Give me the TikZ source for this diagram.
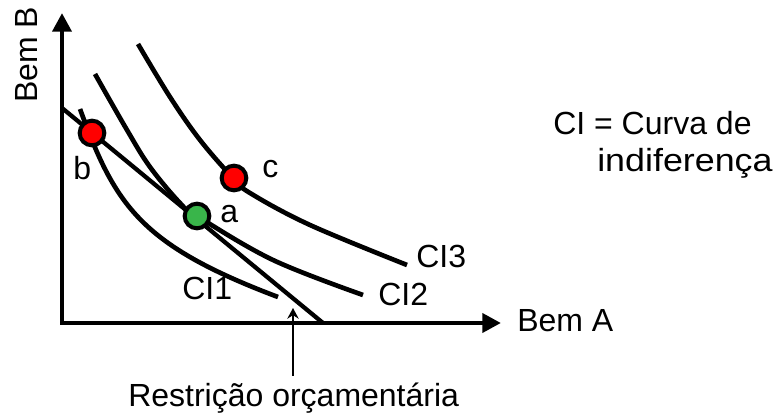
\documentclass[tikz,border=0pt]{standalone}
\usepackage{fontspec}
\setmainfont{Liberation Sans}
\usetikzlibrary{arrows.meta}
\definecolor{ptred}{HTML}{FF0000}
\definecolor{ptgreen}{HTML}{39B54A}
\begin{document}
\begin{tikzpicture}[x=0.75pt,y=-0.75pt,
  lbl/.style={inner sep=0pt,anchor=base west,font=\fontsize{24}{28}\selectfont},
  curve/.style={line width=3.5pt},
  pointdot/.style={circle,draw=black,line width=3pt,minimum size=18.5pt,inner sep=0pt},
  axisline/.style={line width=3.6pt,line join=miter,
     {Triangle[length=14pt,width=14pt]}-{Triangle[length=14pt,width=14pt]}},
  pointer/.style={line width=1.9pt,-{Stealth[length=8pt,width=8.5pt]}}]
\useasboundingbox (0,0) rectangle (782,416);
% axes
\coordinate (ytip) at (62,13);
\coordinate (origin) at (62,323);
\coordinate (xtip) at (501,323);
\draw[axisline] (ytip) -- (origin) -- (xtip);
% indifference curves
\draw[curve] (80,109) .. controls (115,205) and (140,245) .. (278,297);
\draw[curve] plot[smooth,tension=0.6] coordinates {(95,74) (127,130) (150,167) (180,203) (197,216) (273,260) (363,295)};
\draw[curve] plot[smooth,tension=0.6] coordinates {(138,44) (170,97) (200,140) (233,178) (250,193) (310,225) (407,265)};
% budget line
\coordinate (bl1) at (62,108);
\coordinate (bl2) at (323,323);
\draw[line width=3.2pt] (bl1) -- (bl2);
% points
\node[pointdot,fill=ptred] (b) at (92,133) {};
\node[pointdot,fill=ptgreen] (a) at (197,216) {};
\node[pointdot,fill=ptred] (c) at (234,178) {};
% labels
\node[lbl] (lb) at (73,180) {b};
\node[lbl] (la) at (220,223) {a};
\node[lbl] (lc) at (262,178) {c};
\node[lbl] (ci1) at (182,300) {CI1};
\node[lbl] (ci2) at (378,306) {CI2};
\node[lbl] (ci3) at (416,268) {CI3};
\node[lbl] (bema) at (517,332) {Bem A};
\node[lbl,rotate=90] (bemb) at (37,103) {Bem B};
\node[lbl] (leg1) at (553,135) {CI = Curva de};
\node[lbl] (leg2) at (597,172) {\scalebox{1.12}[1]{indiferença}};
\node[lbl] (restr) at (128,407) {Restrição orçamentária};
% pointer
\coordinate (pbot) at (293,376);
\coordinate (ptop) at (293,308);
\draw[pointer] (pbot) -- (ptop);
\end{tikzpicture}
\end{document}
